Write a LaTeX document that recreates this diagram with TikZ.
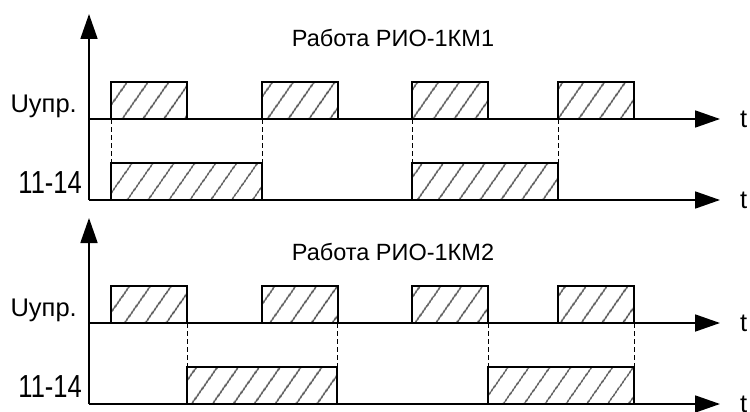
\documentclass[tikz,border=0pt]{standalone}
\usepackage{fontspec}
\setmainfont{Liberation Sans}
\usetikzlibrary{arrows.meta,patterns.meta}
\tikzset{
  >={Triangle[length=25pt,width=17pt]},
  ax/.style={->,line width=1.8pt},
  pulse/.style={draw,line width=1.8pt,pattern={Lines[angle=55,distance=17pt,line width=1.5pt]},pattern color=black!70},
  guide/.style={line width=0.8pt,dash pattern=on 5pt off 3pt},
  lab/.style={font=\fontsize{25.5}{30}\selectfont,inner sep=0pt},
  ttl/.style={font=\fontsize{23.5}{28}\selectfont,inner sep=0pt},
}
\begin{document}
\begin{tikzpicture}[x=1pt,y=-1pt]
\useasboundingbox (0,0) rectangle (750,412);
% two timing diagrams: shift / number / relay on-off / title shift
\foreach \dy/\k/\ra/\rb/\rc/\rd/\ty in {0/1/111/262/412/558/0, 204/2/187/337/488/634/10}{
\begin{scope}[shift={(0,\dy)}]
  \coordinate (O\k) at (89,200);
  \coordinate (Y\k) at (89,14);
  \coordinate (U\k) at (89,119);
  \coordinate (Ue\k) at (720,119);
  \coordinate (Le\k) at (720,200);
  \draw[ax] (O\k) -- (Y\k);
  \draw[ax] (U\k) -- (Ue\k);
  \draw[ax] (O\k) -- (Le\k);
  \node[lab,anchor=west] (tu\k) at ([xshift=20pt]Ue\k) {t};
  \node[lab,anchor=west] (tl\k) at ([xshift=20pt]Le\k) {t};
  \node[lab,anchor=base east] (nu\k) at (77,112) {Uупр.};
  \node[lab,anchor=base east] (nl\k) at (82,193) {\scalebox{1}[1.25]{11-14}};
  \node[ttl] (ttl\k) at (393,{37.5+\ty}) {Работа РИО-1КМ\k};
  % control pulses
  \foreach \x in {111,262,412,558}
    \draw[pulse] (\x,119) rectangle ++(76,-37);
  % contacts 11-14
  \draw[pulse] (\ra,200) rectangle (\rb,163);
  \draw[pulse] (\rc,200) rectangle (\rd,163);
  \foreach \x in {\ra,\rb,\rc,\rd}
    \draw[guide] (\x,119) -- (\x,163);
\end{scope}}
\end{tikzpicture}
\end{document}
